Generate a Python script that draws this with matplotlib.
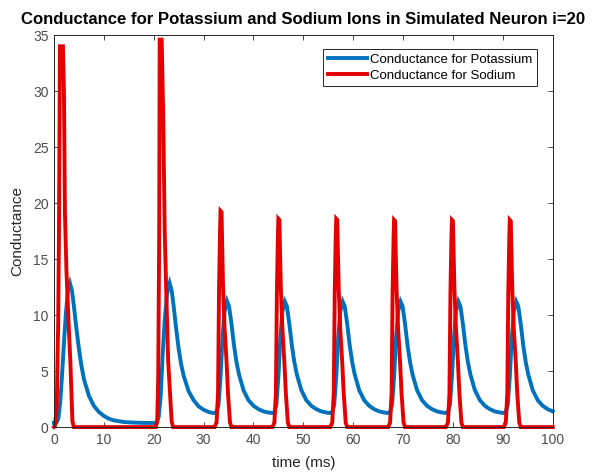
import matplotlib
matplotlib.use("Agg")
import matplotlib.pyplot as plt

# ----------------------------------------------------------------------------------------
# values (time in ms, conductance)

# potassium conductance
t_k = [0.0, 0.5, 0.9, 1.3, 1.6, 2.0, 2.4, 2.8, 3.2, 3.6, 4.0, 4.5, 5.0, 5.5, 6.0,
       7.0, 8.0, 9.0, 10.0, 11.0, 12.0, 14.0, 16.0, 18.0, 20.0,
       20.6, 21.0, 21.4, 21.8, 22.2, 22.7, 23.2, 23.6, 24.0, 24.5, 25.0, 25.5, 26.0,
       27.0, 28.0, 29.0, 30.0, 31.0, 32.0, 32.6,
       33.0, 33.4, 33.8, 34.2, 34.7, 35.1, 35.6, 36.1, 36.6, 37.1, 38.0, 39.0, 40.0,
       41.0, 42.0, 43.0, 44.0,
       44.2, 44.6, 45.0, 45.4, 45.8, 46.3, 46.7, 47.2, 47.7, 48.2, 48.7, 49.6, 50.6, 51.6,
       52.6, 53.6, 54.6, 55.6,
       55.8, 56.2, 56.6, 57.0, 57.4, 57.9, 58.3, 58.8, 59.3, 59.8, 60.3, 61.2, 62.2, 63.2,
       64.2, 65.2, 66.2, 67.2,
       67.4, 67.8, 68.2, 68.6, 69.0, 69.5, 69.9, 70.4, 70.9, 71.4, 71.9, 72.8, 73.8, 74.8,
       75.8, 76.8, 77.8, 78.8,
       79.0, 79.4, 79.8, 80.2, 80.6, 81.1, 81.5, 82.0, 82.5, 83.0, 83.5, 84.4, 85.4, 86.4,
       87.4, 88.4, 89.4, 90.4,
       90.6, 91.0, 91.4, 91.8, 92.2, 92.7, 93.1, 93.6, 94.1, 94.6, 95.1, 96.0, 97.0, 98.0,
       99.0, 100.0]
g_k = [0.37, 0.4, 0.8, 2.5, 4.5, 7.5, 10.2, 12.2, 12.85, 12.2, 10.8, 8.8, 7.0, 5.5, 4.3,
       2.8, 1.9, 1.35, 1.0, 0.75, 0.6, 0.45, 0.4, 0.37, 0.37,
       0.4, 0.9, 2.8, 6.5, 9.5, 12.0, 12.85, 12.2, 10.8, 8.8, 7.0, 5.6, 4.6,
       3.2, 2.4, 1.85, 1.55, 1.35, 1.25, 1.35,
       2.0, 4.5, 8.0, 10.3, 11.25, 10.8, 9.2, 7.3, 5.8, 4.7, 3.3, 2.4, 1.9,
       1.6, 1.4, 1.3, 1.25,
       1.35, 2.0, 4.5, 8.0, 10.3, 11.2, 10.8, 9.2, 7.3, 5.8, 4.7, 3.3, 2.4, 1.9,
       1.6, 1.4, 1.3, 1.25,
       1.35, 2.0, 4.5, 8.0, 10.3, 11.2, 10.8, 9.2, 7.3, 5.8, 4.7, 3.3, 2.4, 1.9,
       1.6, 1.4, 1.3, 1.25,
       1.35, 2.0, 4.5, 8.0, 10.3, 11.2, 10.8, 9.2, 7.3, 5.8, 4.7, 3.3, 2.4, 1.9,
       1.6, 1.4, 1.3, 1.25,
       1.35, 2.0, 4.5, 8.0, 10.3, 11.2, 10.8, 9.2, 7.3, 5.8, 4.7, 3.3, 2.4, 1.9,
       1.6, 1.4, 1.3, 1.25,
       1.35, 2.0, 4.5, 8.0, 10.3, 11.2, 10.8, 9.2, 7.3, 5.8, 4.7, 3.3, 2.4, 1.9,
       1.6, 1.4]

# sodium conductance
t_na = [0.0, 0.2, 0.55, 0.85, 1.0, 1.2, 1.8, 2.0, 2.2, 2.5, 2.9, 3.3, 3.7, 4.0,
        20.4, 20.7, 20.9, 21.1, 21.2, 21.6, 21.9, 22.2, 22.5, 22.9, 23.6, 23.9,
        32.2, 32.6, 32.9, 33.1, 33.3, 33.4, 33.6, 33.9, 34.2, 34.6, 34.9, 35.3, 35.6,
        43.8, 44.2, 44.5, 44.7, 44.9, 45.0, 45.2, 45.5, 45.8, 46.2, 46.5, 46.9, 47.2,
        55.4, 55.8, 56.1, 56.3, 56.5, 56.6, 56.8, 57.1, 57.4, 57.8, 58.1, 58.5, 58.8,
        67.0, 67.4, 67.7, 67.9, 68.1, 68.2, 68.4, 68.7, 69.0, 69.4, 69.7, 70.1, 70.4,
        78.6, 79.0, 79.3, 79.5, 79.7, 79.8, 80.0, 80.3, 80.6, 81.0, 81.3, 81.7, 82.0,
        90.2, 90.6, 90.9, 91.1, 91.3, 91.4, 91.6, 91.9, 92.2, 92.6, 92.9, 93.3, 93.6,
        100.0]
g_na = [0.01, 0.1, 1.8, 9.4, 17.0, 34.0, 34.0, 30.0, 19.1, 14.0, 9.6, 5.7, 0.5, 0.0,
        0.0, 0.5, 4.3, 17.0, 34.6, 34.6, 28.0, 17.7, 12.3, 5.9, 0.5, 0.0,
        0.0, 0.4, 3.0, 12.3, 17.5, 19.3, 19.2, 12.6, 9.0, 5.9, 3.0, 0.4, 0.0,
        0.0, 0.4, 3.0, 12.0, 17.0, 18.6, 18.5, 12.3, 8.8, 5.8, 3.0, 0.4, 0.0,
        0.0, 0.4, 3.0, 12.0, 17.0, 18.6, 18.5, 12.3, 8.8, 5.8, 3.0, 0.4, 0.0,
        0.0, 0.4, 3.0, 12.0, 17.0, 18.5, 18.4, 12.3, 8.8, 5.8, 3.0, 0.4, 0.0,
        0.0, 0.4, 3.0, 12.0, 17.0, 18.5, 18.4, 12.3, 8.8, 5.8, 3.0, 0.4, 0.0,
        0.0, 0.4, 3.0, 12.0, 17.0, 18.5, 18.4, 12.3, 8.8, 5.8, 3.0, 0.4, 0.0,
        0.0]

x_ticks = list(range(0, 101, 10))
y_ticks = list(range(0, 36, 5))
# ----------------------------------------------------------------------------------------

plt.rcParams["font.family"] = ["Liberation Sans", "DejaVu Sans"]
axis_col = "#262626"
tick_col = "#4d4d4d"

fig = plt.figure(figsize=(5.93, 4.74), dpi=100)
ax = fig.add_axes([0.091, 0.099, 0.841, 0.827])

# create lineplot
ax.plot(t_k, g_k, color="#0072BD", linewidth=2.8, label="Conductance for Potassium",
        clip_on=False, solid_joinstyle="miter")
ax.plot(t_na, g_na, color="#E50000", linewidth=2.8, label="Conductance for Sodium",
        clip_on=False, solid_joinstyle="miter")

ax.set_xlim(0, 100)
ax.set_ylim(0, 35)
ax.set_xticks(x_ticks)
ax.set_yticks(y_ticks)
ax.tick_params(direction="in", top=True, right=True, length=3.5, width=0.6,
               colors=axis_col, labelcolor=tick_col, labelsize=10, pad=4)
for sp in ax.spines.values():
    sp.set_color(axis_col)
    sp.set_linewidth(0.7)

# set label-labels
ax.set_title("Conductance for Potassium and Sodium Ions in Simulated Neuron i=20",
             fontsize=12.1, fontweight="bold", pad=8)
ax.set_xlabel("time (ms)", fontsize=11, color=axis_col, labelpad=7)
ax.set_ylabel("Conductance", fontsize=11, color=axis_col, labelpad=6)

leg = ax.legend(loc="upper right", bbox_to_anchor=(0.968, 0.964), borderaxespad=0,
                fancybox=False, edgecolor=axis_col, framealpha=1, fontsize=9.5,
                handlelength=3.0, handletextpad=0.2, borderpad=0.35, labelspacing=0.25)
leg.get_frame().set_linewidth(0.7)

fig.savefig("out.png", dpi=100)
